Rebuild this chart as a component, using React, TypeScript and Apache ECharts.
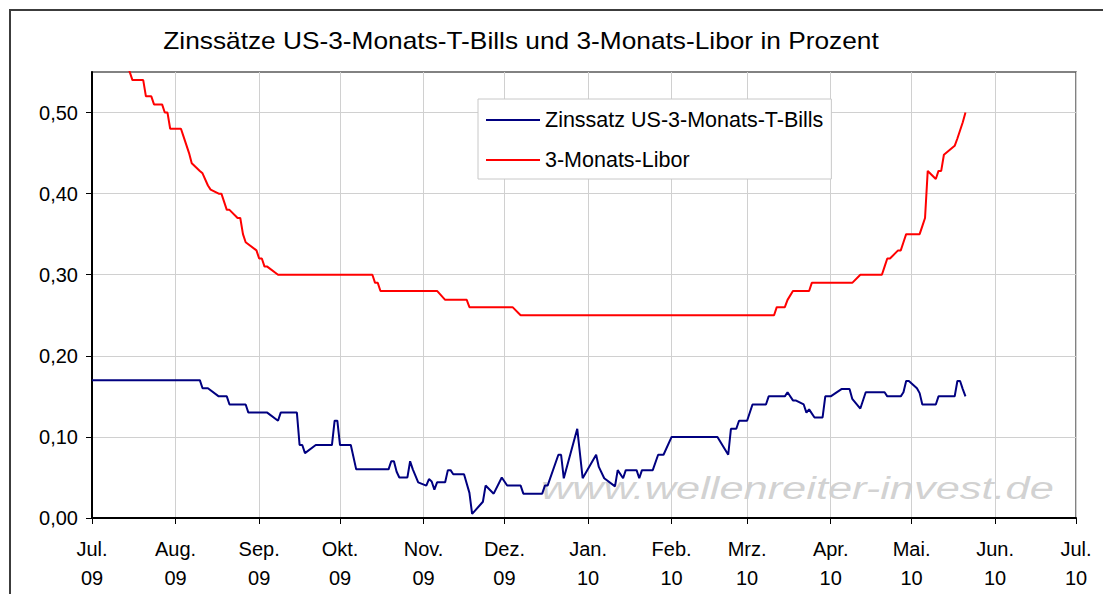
import React, { useEffect, useRef } from "react";
import * as echarts from "echarts";

const chartTitle = "Zinssätze US-3-Monats-T-Bills und 3-Monats-Libor in Prozent";
const watermarkText = "www.wellenreiter-invest.de";
const seriesNames = ["Zinssatz US-3-Monats-T-Bills", "3-Monats-Libor"];

const monthTicks = [
  "2009-07-01", "2009-08-01", "2009-09-01", "2009-10-01", "2009-11-01", "2009-12-01",
  "2010-01-01", "2010-02-01", "2010-03-01", "2010-04-01", "2010-05-01", "2010-06-01", "2010-07-01",
];
const monthLabels = [
  "Jul.\n09", "Aug.\n09", "Sep.\n09", "Okt.\n09", "Nov.\n09", "Dez.\n09",
  "Jan.\n10", "Feb.\n10", "Mrz.\n10", "Apr.\n10", "Mai.\n10", "Jun.\n10", "Jul.\n10",
];
const yTicks = [0, 0.1, 0.2, 0.3, 0.4, 0.5];

const tbillDates = [
  "2009-07-01", "2009-08-10", "2009-08-11", "2009-08-13", "2009-08-17", "2009-08-20", "2009-08-21",
  "2009-08-27", "2009-08-28", "2009-09-04", "2009-09-08", "2009-09-09", "2009-09-15", "2009-09-16",
  "2009-09-17", "2009-09-18", "2009-09-22", "2009-09-28", "2009-09-29", "2009-09-30", "2009-10-01",
  "2009-10-05", "2009-10-07", "2009-10-19", "2009-10-20", "2009-10-21", "2009-10-22", "2009-10-23",
  "2009-10-26", "2009-10-27", "2009-10-28", "2009-10-30", "2009-11-02", "2009-11-03", "2009-11-04",
  "2009-11-05", "2009-11-06", "2009-11-09", "2009-11-10", "2009-11-11", "2009-11-12", "2009-11-16",
  "2009-11-18", "2009-11-19", "2009-11-23", "2009-11-24", "2009-11-27", "2009-11-30", "2009-12-02",
  "2009-12-07", "2009-12-08", "2009-12-15", "2009-12-16", "2009-12-17", "2009-12-21", "2009-12-22",
  "2009-12-23", "2009-12-28", "2009-12-30", "2010-01-04", "2010-01-05", "2010-01-07", "2010-01-11",
  "2010-01-12", "2010-01-14", "2010-01-15", "2010-01-19", "2010-01-20", "2010-01-21", "2010-01-25",
  "2010-01-27", "2010-01-29", "2010-02-01", "2010-02-18", "2010-02-22", "2010-02-23", "2010-02-25",
  "2010-02-26", "2010-03-01", "2010-03-03", "2010-03-08", "2010-03-09", "2010-03-15", "2010-03-16",
  "2010-03-18", "2010-03-19", "2010-03-22", "2010-03-23", "2010-03-24", "2010-03-26", "2010-03-29",
  "2010-03-30", "2010-04-01", "2010-04-05", "2010-04-08", "2010-04-09", "2010-04-12", "2010-04-14",
  "2010-04-21", "2010-04-22", "2010-04-27", "2010-04-28", "2010-04-29", "2010-04-30", "2010-05-03",
  "2010-05-04", "2010-05-05", "2010-05-10", "2010-05-11", "2010-05-17", "2010-05-18", "2010-05-19",
  "2010-05-20", "2010-05-21",
];
const tbillValues = [
  0.17, 0.17, 0.16, 0.16, 0.15, 0.15, 0.14,
  0.14, 0.13, 0.13, 0.12, 0.13, 0.13, 0.09,
  0.09, 0.08, 0.09, 0.09, 0.12, 0.12, 0.09,
  0.09, 0.06, 0.06, 0.07, 0.07, 0.057, 0.05,
  0.05, 0.07, 0.06, 0.044, 0.04, 0.048, 0.045,
  0.035, 0.044, 0.044, 0.059, 0.059, 0.054, 0.054,
  0.031, 0.005, 0.02, 0.04, 0.03, 0.05, 0.04,
  0.04, 0.03, 0.03, 0.04, 0.04, 0.078, 0.078,
  0.049, 0.11, 0.049, 0.078, 0.063, 0.049, 0.039,
  0.059, 0.049, 0.059, 0.059, 0.049, 0.059, 0.059,
  0.078, 0.078, 0.10, 0.10, 0.078, 0.11, 0.11,
  0.12, 0.12, 0.14, 0.14, 0.15, 0.15, 0.155,
  0.145, 0.145, 0.14, 0.13, 0.134, 0.124, 0.124,
  0.15, 0.15, 0.159, 0.159, 0.147, 0.135, 0.155,
  0.155, 0.15, 0.15, 0.155, 0.169, 0.169, 0.16,
  0.154, 0.14, 0.14, 0.15, 0.15, 0.169, 0.169,
  0.159, 0.15,
];

const liborDates = [
  "2009-07-01", "2009-07-06", "2009-07-09", "2009-07-14", "2009-07-16", "2009-07-20", "2009-07-21",
  "2009-07-23", "2009-07-24", "2009-07-27", "2009-07-28", "2009-07-29", "2009-07-30", "2009-08-03",
  "2009-08-04", "2009-08-06", "2009-08-07", "2009-08-10", "2009-08-11", "2009-08-13", "2009-08-14",
  "2009-08-17", "2009-08-18", "2009-08-20", "2009-08-21", "2009-08-24", "2009-08-25", "2009-08-26",
  "2009-08-27", "2009-08-31", "2009-09-01", "2009-09-02", "2009-09-03", "2009-09-04", "2009-09-08",
  "2009-10-13", "2009-10-14", "2009-10-15", "2009-10-16", "2009-11-06", "2009-11-09", "2009-11-17",
  "2009-11-18", "2009-12-04", "2009-12-07", "2010-03-11", "2010-03-12", "2010-03-15", "2010-03-16",
  "2010-03-18", "2010-03-24", "2010-03-25", "2010-04-09", "2010-04-12", "2010-04-20", "2010-04-21",
  "2010-04-22", "2010-04-23", "2010-04-26", "2010-04-27", "2010-04-28", "2010-04-29", "2010-05-04",
  "2010-05-05", "2010-05-06", "2010-05-07", "2010-05-10", "2010-05-11", "2010-05-12", "2010-05-13",
  "2010-05-17", "2010-05-18", "2010-05-20", "2010-05-21",
];
const liborValues = [
  0.595, 0.59, 0.57, 0.56, 0.54, 0.54, 0.52,
  0.52, 0.51, 0.51, 0.50, 0.50, 0.48, 0.48,
  0.47, 0.45, 0.4375, 0.428, 0.425, 0.41, 0.405,
  0.40, 0.40, 0.38, 0.38, 0.37, 0.37, 0.35,
  0.34, 0.33, 0.32, 0.32, 0.31, 0.31, 0.30,
  0.30, 0.29, 0.29, 0.28, 0.28, 0.269, 0.269,
  0.26, 0.26, 0.25, 0.25, 0.26, 0.26, 0.269,
  0.28, 0.28, 0.29, 0.29, 0.30, 0.30, 0.31,
  0.32, 0.32, 0.33, 0.33, 0.34, 0.35, 0.35,
  0.36, 0.37, 0.428, 0.418, 0.428, 0.428, 0.448,
  0.459, 0.468, 0.488, 0.50,
];

const FONT = "'Liberation Sans', Arial, Helvetica, sans-serif";

function ts(s: string): number {
  const [y, m, d] = s.split("-").map(Number);
  return new Date(y, m - 1, d).getTime();
}

export default function App() {
  const ref = useRef<HTMLDivElement>(null);

  useEffect(() => {
    if (!ref.current) return;
    const chart = echarts.init(ref.current, undefined, { renderer: "svg" });
    const tickTs = monthTicks.map(ts);
    const labelFor = (v: number) => {
      for (let i = 0; i < tickTs.length; i++) {
        if (Math.abs(tickTs[i] - v) < 43200000) return monthLabels[i];
      }
      return "";
    };
    const option: any = {
      animation: false,
      backgroundColor: "#ffffff",
      textStyle: { fontFamily: FONT },
      grid: {
        left: 92,
        right: 27,
        top: 72,
        bottom: 76,
        show: true,
        borderColor: "#5a5a5a",
        borderWidth: 1.5,
        backgroundColor: "transparent",
      },
      legend: {
        orient: "vertical",
        left: 478,
        top: 99,
        padding: [10, 8, 8, 8],
        itemWidth: 54,
        itemHeight: 2,
        itemGap: 18,
        icon: "rect",
        backgroundColor: "#ffffff",
        borderColor: "#c8c8c8",
        borderWidth: 1,
        data: seriesNames,
        textStyle: { fontSize: 21.5, lineHeight: 20, color: "#000", fontFamily: FONT },
      },
      xAxis: {
        type: "value",
        min: tickTs[0],
        max: tickTs[tickTs.length - 1],
        axisLine: { show: true, lineStyle: { color: "#000", width: 2 } },
        axisTick: { show: true, length: 6, lineStyle: { color: "#000", width: 1 }, customValues: tickTs },
        axisLabel: {
          customValues: tickTs,
          formatter: (v: number) => labelFor(v),
          fontSize: 20,
          lineHeight: 29,
          color: "#000",
          fontFamily: FONT,
          margin: 16,
        },
        splitLine: { show: true, lineStyle: { color: "#d0d0d0", width: 1 } },
      },
      yAxis: {
        type: "value",
        min: 0,
        max: 0.55,
        interval: 0.1,
        axisLine: { show: true, lineStyle: { color: "#000", width: 2 } },
        axisTick: { show: true, length: 6, lineStyle: { color: "#000", width: 1 }, customValues: yTicks },
        axisLabel: {
          customValues: yTicks,
          formatter: (v: number) => (v > 0.505 ? "" : v.toFixed(2).replace(".", ",")),
          fontSize: 20,
          color: "#000",
          fontFamily: FONT,
          margin: 14,
        },
        splitLine: { show: true, lineStyle: { color: "#d0d0d0", width: 1 } },
      },
      graphic: [
        {
          type: "rect",
          z: -10,
          silent: true,
          shape: { x: 10, y: 10, width: 1110, height: 620 },
          style: { fill: "none", stroke: "#3c3c3c", lineWidth: 2 },
        },
        {
          type: "text",
          x: 521,
          y: 40,
          scaleX: 1.095,
          silent: true,
          style: {
            text: chartTitle,
            fontSize: 24,
            fontFamily: FONT,
            fill: "#000",
            align: "center",
            verticalAlign: "middle",
          },
        },
        {
          type: "text",
          x: 541,
          y: 488,
          z: -5,
          scaleX: 1.4,
          silent: true,
          style: {
            text: watermarkText,
            fontSize: 31,
            fontStyle: "italic",
            fontFamily: FONT,
            fill: "rgba(165,165,165,0.5)",
            align: "left",
            verticalAlign: "middle",
          },
        },
      ],
      series: [
        {
          name: seriesNames[0],
          type: "line",
          showSymbol: false,
          symbol: "none",
          clip: true,
          color: "#000080",
          lineStyle: { color: "#000080", width: 2 },
          data: tbillDates.map((d, i) => [ts(d), tbillValues[i]]),
          z: 5,
        },
        {
          name: seriesNames[1],
          type: "line",
          showSymbol: false,
          symbol: "none",
          clip: true,
          color: "#ff0000",
          lineStyle: { color: "#ff0000", width: 2 },
          data: liborDates.map((d, i) => [ts(d), liborValues[i]]),
          z: 5,
        },
      ],
    };
    chart.setOption(option);
    return () => chart.dispose();
  }, []);

  return (
    <div
      ref={ref}
      style={{ position: "fixed", left: 0, top: 0, width: 1103, height: 594, background: "#fff" }}
    />
  );
}
